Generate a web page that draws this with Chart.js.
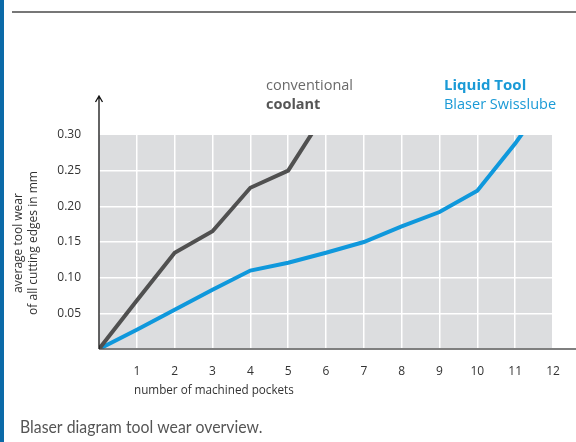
<!DOCTYPE html>
<html>
<head>
<meta charset="utf-8">
<script src="https://cdn.jsdelivr.net/npm/chart.js@4/dist/chart.umd.min.js"></script>
<style>
    html, body { margin: 0; padding: 0; background: #fff; }
    #wrap { position: relative; width: 576px; height: 442px; }
</style>
</head>
<body>
<div id="wrap"><canvas id="wearChart" width="576" height="442"></canvas></div>
<script>
// pockets machined (x) and average wear in mm (y)
const pockets = [0, 1, 2, 3, 4, 5, 6, 7, 8, 9, 10, 11, 12];
const coolantWear = [0, 0.068, 0.135, 0.165, 0.226, 0.25, 0.333];
const liquidToolWear = [0, 0.027, 0.055, 0.083, 0.110, 0.121, 0.135, 0.150, 0.172, 0.192, 0.222, 0.288, 0.363];
const yTicks = [0.05, 0.10, 0.15, 0.20, 0.25, 0.30];

const GRAY_LINE = '#505050';
const BLUE_LINE = '#0f98dc';
const FONT = "'Open Sans', 'Noto Sans', sans-serif";

const toPoints = (vals) => vals.map((v, i) => ({ x: pockets[i], y: v }));

// background, axes with arrow, legend text, captions
const decorations = {
    id: 'decorations',
    beforeDraw(chart) {
        const { ctx, chartArea: a } = chart;
        ctx.save();
        ctx.fillStyle = '#dcdddf';
        ctx.fillRect(a.left, a.top, a.right - a.left, a.bottom - a.top);
        ctx.restore();
    },
    afterDraw(chart) {
        const { ctx, chartArea: a } = chart;
        ctx.save();

        // left blue bar + top rule
        ctx.fillStyle = '#0b6aa8';
        ctx.fillRect(0, 0, 4, 442);
        ctx.strokeStyle = '#777';
        ctx.lineWidth = 2;
        ctx.beginPath();
        ctx.moveTo(12, 12);
        ctx.lineTo(576, 12);
        ctx.stroke();

        // x axis line
        ctx.strokeStyle = '#555';
        ctx.lineWidth = 1.5;
        ctx.beginPath();
        ctx.moveTo(a.left, a.bottom);
        ctx.lineTo(576, a.bottom);
        ctx.stroke();

        // y axis with arrow
        ctx.strokeStyle = '#111';
        ctx.lineWidth = 1.3;
        ctx.beginPath();
        ctx.moveTo(a.left, a.bottom);
        ctx.lineTo(a.left, 96);
        ctx.moveTo(a.left - 3.5, 102);
        ctx.lineTo(a.left, 96);
        ctx.lineTo(a.left + 3.5, 102);
        ctx.stroke();

        // legend labels
        ctx.textBaseline = 'middle';
        ctx.textAlign = 'left';
        ctx.fillStyle = '#6a6a6a';
        ctx.font = '14.5px ' + FONT;
        ctx.fillText('conventional', 266, 86);
        ctx.fillStyle = '#555';
        ctx.font = 'bold 14.5px ' + FONT;
        ctx.fillText('coolant', 266, 105);
        ctx.fillStyle = '#1a9ad6';
        ctx.font = 'bold 15px ' + FONT;
        ctx.fillText('Liquid Tool', 444, 86);
        ctx.font = '14.5px ' + FONT;
        ctx.fillText('Blaser Swisslube', 444, 105);

        // x axis title
        ctx.fillStyle = '#333';
        ctx.font = '11.7px ' + FONT;
        ctx.fillText('number of machined pockets', 134, 391);

        // y axis title (two lines, rotated)
        ctx.save();
        ctx.translate(0, 243);
        ctx.rotate(-Math.PI / 2);
        ctx.textAlign = 'center';
        ctx.font = '12px ' + FONT;
        ctx.fillText('average tool wear', 0, 19);
        ctx.fillText('of all cutting edges in mm', 0, 34);
        ctx.restore();

        // caption (narrow face)
        ctx.save();
        ctx.translate(20, 428);
        ctx.scale(0.93, 1);
        ctx.fillStyle = '#555';
        ctx.font = "17px Lato, sans-serif";
        ctx.fillText('Blaser diagram tool wear overview.', 0, 0);
        ctx.restore();

        ctx.restore();
    }
};

const chart = new Chart(document.getElementById('wearChart'), {
    type: 'line',
    data: {
        datasets: [
            {
                label: 'conventional coolant',
                data: toPoints(coolantWear),
                borderColor: GRAY_LINE,
                borderWidth: 4,
                pointRadius: 0,
                tension: 0,
                borderJoinStyle: 'miter'
            },
            {
                label: 'Liquid Tool Blaser Swisslube',
                data: toPoints(liquidToolWear),
                borderColor: BLUE_LINE,
                borderWidth: 4,
                pointRadius: 0,
                tension: 0,
                borderJoinStyle: 'miter'
            }
        ]
    },
    options: {
        responsive: false,
        animation: false,
        layout: { padding: { top: 135, right: 23, left: 0, bottom: 0 } },
        plugins: {
            legend: { display: false },
            tooltip: { enabled: false }
        },
        scales: {
            x: {
                type: 'linear',
                min: 0,
                max: 12,
                border: { display: false },
                grid: { color: '#fff', lineWidth: 1.5, drawTicks: false },
                ticks: {
                    stepSize: 1,
                    padding: 15,
                    color: '#333',
                    font: { family: FONT, size: 12 },
                    callback: (v) => v === 0 ? '' : v
                },
                afterFit: (scale) => { scale.height = 93; }
            },
            y: {
                min: 0,
                max: 0.30,
                border: { display: false },
                grid: {
                    color: (c) => c.tick && c.tick.value >= 0.3 ? 'rgba(0,0,0,0)' : '#fff',
                    lineWidth: 1.5,
                    drawTicks: false
                },
                afterBuildTicks: (scale) => { scale.ticks = [0].concat(yTicks).map(v => ({ value: v })); },
                ticks: {
                    padding: 18,
                    color: '#333',
                    font: { family: FONT, size: 12 },
                    callback: (v) => v === 0 ? '' : v.toFixed(2)
                },
                afterFit: (scale) => { scale.width = 99; }
            }
        }
    },
    plugins: [decorations]
});
</script>
</body>
</html>
